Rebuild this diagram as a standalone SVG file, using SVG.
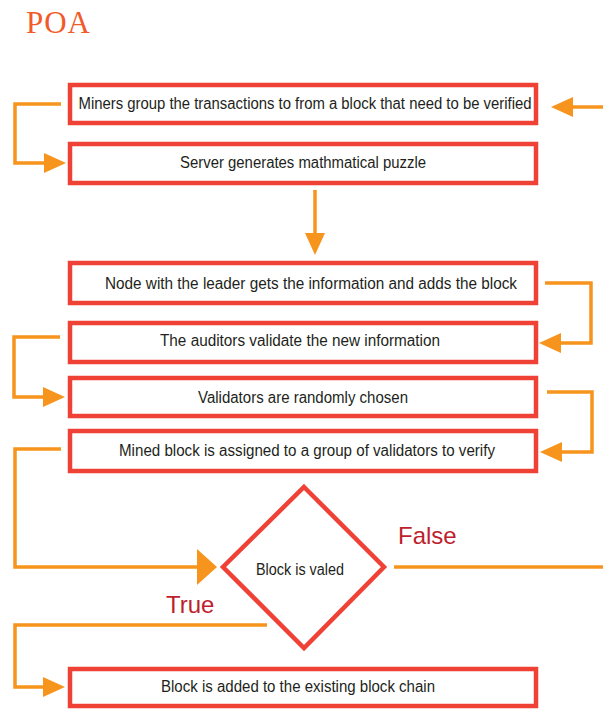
<svg xmlns="http://www.w3.org/2000/svg" width="603" height="709" viewBox="0 0 603 709">
<style>
.box{fill:#fff;stroke:#EF4136;stroke-width:4.5}
.lbl{font-family:"Liberation Sans",Arial,sans-serif;font-size:16px;fill:#231F20;text-anchor:middle}
.con{fill:none;stroke:#F7941D;stroke-width:3.5}
.tf{font-family:"Liberation Sans",Arial,sans-serif;font-size:24px;fill:#BE1E2D}
</style>
<defs>
<marker id="ah" markerUnits="userSpaceOnUse" markerWidth="22" markerHeight="20" refX="0" refY="10" orient="auto" overflow="visible">
<path d="M0,0 L22,10 L0,20 Z" fill="#F7941D"/>
</marker>
<marker id="ahBig" markerUnits="userSpaceOnUse" markerWidth="20" markerHeight="36" refX="0" refY="18" orient="auto" overflow="visible">
<path d="M0,0 L20,18 L0,36 Z" fill="#F7941D"/>
</marker>
</defs>
<rect width="603" height="709" fill="#fff"/>
<text x="26" y="33" font-family="'Liberation Serif','Times New Roman',serif" font-size="31" fill="#F15A29" textLength="64">POA</text>

<g id="connectors">
<path class="con" d="M61,104 H15 V163 H44" marker-end="url(#ah)"/>
<path class="con" d="M603,107 H573" marker-end="url(#ah)"/>
<path class="con" d="M315,190 V233" marker-end="url(#ah)"/>
<path class="con" d="M545,283 H591 V343 H561" marker-end="url(#ah)"/>
<path class="con" d="M60,337 H14 V397 H43" marker-end="url(#ah)"/>
<path class="con" d="M547,392 H592 V452 H562" marker-end="url(#ah)"/>
<path class="con" d="M61,449 H15 V567 H197" marker-end="url(#ahBig)"/>
<path class="con" d="M394,567 H603"/>
<path class="con" d="M267,625 H15 V687 H43" marker-end="url(#ah)"/>
<text class="tf" x="398" y="544">False</text>
<text class="tf" x="166" y="613">True</text>
</g>

<g id="n1">
<rect class="box" x="70" y="85" width="466" height="38"/>
<text class="lbl" x="305" y="109" textLength="453" lengthAdjust="spacingAndGlyphs">Miners group the transactions to from a block that need to be verified</text>
</g>
<g id="n2">
<rect class="box" x="70" y="144" width="466" height="39"/>
<text class="lbl" x="303" y="168" textLength="246" lengthAdjust="spacingAndGlyphs">Server generates mathmatical puzzle</text>
</g>
<g id="n3">
<rect class="box" x="70" y="263" width="466" height="40"/>
<text class="lbl" x="311" y="289" textLength="412" lengthAdjust="spacingAndGlyphs">Node with the leader gets the information and adds the block</text>
</g>
<g id="n4">
<rect class="box" x="70" y="323" width="466" height="39"/>
<text class="lbl" x="300" y="346" textLength="280" lengthAdjust="spacingAndGlyphs">The auditors validate the new information</text>
</g>
<g id="n5">
<rect class="box" x="70" y="378" width="466" height="38"/>
<text class="lbl" x="303" y="403" textLength="210" lengthAdjust="spacingAndGlyphs">Validators are randomly chosen</text>
</g>
<g id="n6">
<rect class="box" x="70" y="431" width="466" height="40"/>
<text class="lbl" x="307" y="456" textLength="376" lengthAdjust="spacingAndGlyphs">Mined block is assigned to a group of validators to verify</text>
</g>
<g id="n7">
<polygon class="box" points="304,487 384,567 304,648 223,567"/>
<text class="lbl" x="300" y="575" font-size="15" textLength="88" lengthAdjust="spacingAndGlyphs">Block is valed</text>
</g>
<g id="n8">
<rect class="box" x="70" y="669" width="466" height="37"/>
<text class="lbl" x="298" y="692" textLength="274" lengthAdjust="spacingAndGlyphs">Block is added to the existing block chain</text>
</g>
</svg>
